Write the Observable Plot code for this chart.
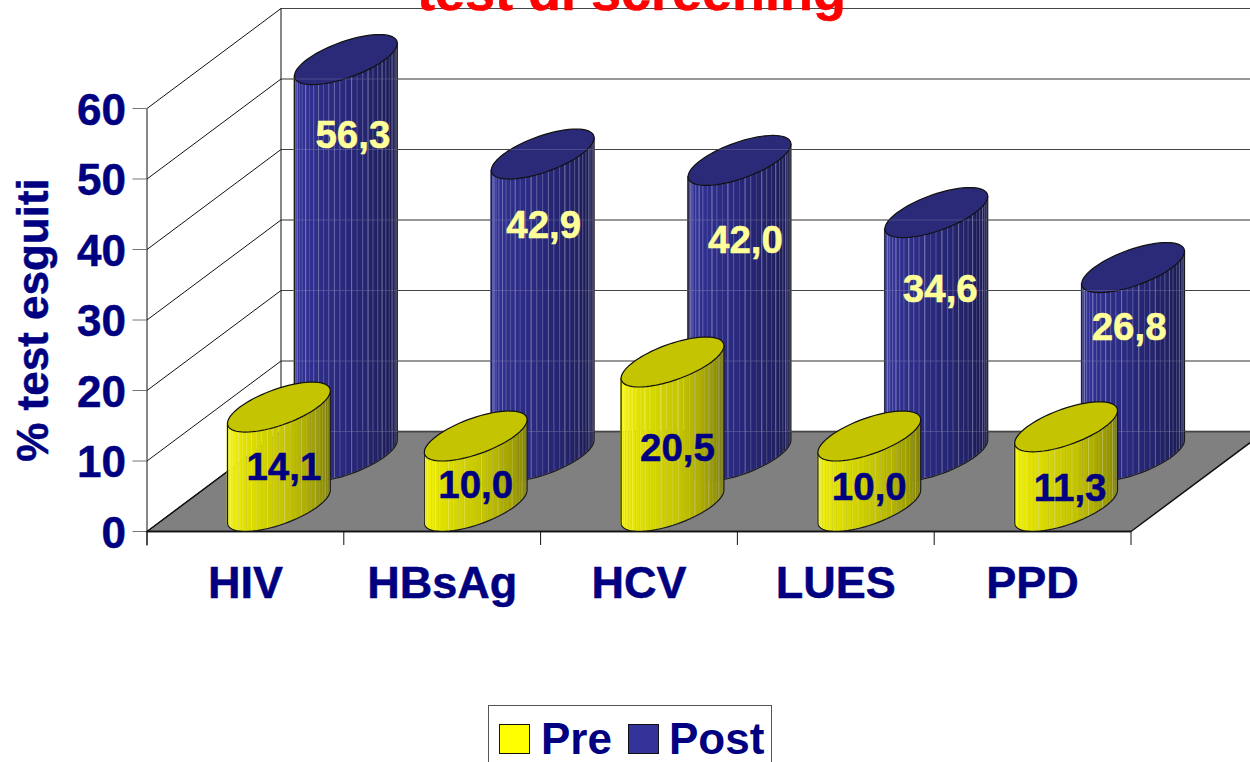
<!DOCTYPE html>
<html>
<head>
<meta charset="utf-8">
<script src="https://cdn.jsdelivr.net/npm/d3@7"></script>
<script src="https://cdn.jsdelivr.net/npm/@observablehq/plot@0.6"></script>
<style>
html,body{margin:0;padding:0;background:#fff;overflow:hidden}
svg{display:block}
#legend{position:absolute;left:488px;top:705px;width:284px;height:57px;border:1.5px solid #555;border-bottom:none;box-sizing:border-box;font:bold 44px "Liberation Sans",Arial,sans-serif;color:#000080}
#legend i{position:absolute;top:18px;width:31px;height:30px;border:1px solid #111;box-sizing:border-box}
#legend span{position:absolute;top:8px;line-height:50px}
</style>
</head>
<body>
<div id="chart"></div>
<div id="legend">
<i style="left:10px;background:#ffff00"></i><span style="left:52px">Pre</span>
<i style="left:139px;background:#333399"></i><span style="left:180px">Post</span>
</div>
<script>
const categories = ["HIV", "HBsAg", "HCV", "LUES", "PPD"];
const preValues = [14.1, 10.0, 20.5, 10.0, 11.3];
const postValues = [56.3, 42.9, 42.0, 34.6, 26.8];
const yTicks = [0, 10, 20, 30, 40, 50, 60];
const xTicks = [0, 1, 2, 3, 4, 5];

// Layout: pixel scale, depth of the 3D box, label offsets below each cap
const pxX = 196.8, pxY = 7.05;
const depthX = 134 / pxX, depthY = 100 / pxY;
const preOffset = [[5, 61], [0, 50], [5, 87], [0, 52], [4, 62]];
const postOffset = [[7, 76], [1, 72], [6, 80], [4, 77], [-4, 60]];

const P = (x, y, d) => ({x: x + d * depthX, y: y + d * depthY});

const radiusX = 39 / pxX;
const point = (i, d, v, t) => {
  const c = P(i + 0.5, v, d);
  return {
    x: c.x + radiusX * Math.cos(t) + 0.25 * depthX * Math.sin(t),
    y: c.y + 0.25 * depthY * Math.sin(t)
  };
};
const t0 = Math.atan2(0.25 * depthX, radiusX);
const facets = 28;

const preShade = d3.scaleLinear().domain([0, 0.12, 0.55, 1]).range(["#ffff00", "#f2f200", "#c4c400", "#757500"]);
const postShade = d3.scaleLinear().domain([0, 0.12, 0.5, 1]).range(["#4848b0", "#333399", "#28287c", "#181848"]);

function cylinders(values, d, shade, capColor, sid) {
  const side = [], stripes = [], cap = [], outline = [];
  values.forEach((v, i) => {
    for (let k = 0; k < facets; k++) {
      const id = `${sid}${i}-${k}`;
      for (const q of [k, k + 1]) {
        const t = Math.PI + t0 + (q / facets) * Math.PI;
        const a = point(i, d, 0, t), b = point(i, d, v, t);
        side.push({id, x: a.x, y1: a.y, y2: b.y, c: d3.color(shade((k + 0.5) / facets)).formatHex()});
      }
      if (k > 0) {
        const t = Math.PI + t0 + (k / facets) * Math.PI;
        const a = point(i, d, 0, t), b = point(i, d, v, t);
        stripes.push({x1: a.x, y1: a.y, x2: b.x, y2: b.y, o: k % 3 === 0 ? 0.3 : 0.14});
      }
    }
    for (let k = 0; k <= 72; k++) {
      const t = (k / 72) * 2 * Math.PI;
      cap.push({id: i, ...point(i, d, v, t)});
    }
    for (let k = 0; k <= 36; k++) {
      const t = Math.PI + t0 + (k / 36) * Math.PI;
      outline.push({id: i, ...point(i, d, 0, t)});
    }
    outline.push({id: i, ...point(i, d, v, t0)});
    outline.unshift({id: i, ...point(i, d, v, Math.PI + t0)});
  });
  return [
    Plot.area(side, {x1: "x", y1: "y1", y2: "y2", z: "id", fill: "c", stroke: "c", strokeWidth: 0.3}),
    Plot.link(stripes, {x1: "x1", y1: "y1", x2: "x2", y2: "y2", stroke: "#ffffff", strokeOpacity: "o", strokeWidth: 1}),
    Plot.line(outline, {x: "x", y: "y", z: "id", stroke: "#1a1a1a", strokeWidth: 1.2}),
    Plot.line(cap, {x: "x", y: "y", z: "id", fill: capColor, stroke: "#111", strokeWidth: 1.2})
  ];
}

const leftWall = yTicks.map(v => {
  const a = P(0, v, 0), b = P(0, v, 1);
  return {x1: a.x, y1: a.y, x2: b.x, y2: b.y, v};
});
const backWall = yTicks.map(v => {
  const a = P(0, v, 1), b = P(5.2, v, 1);
  return {x1: a.x, y1: a.y, x2: b.x, y2: b.y, v};
});
const floor = [P(0, 0, 0), P(0, 0, 1), P(5, 0, 1), P(5, 0, 0), P(0, 0, 0)];
const backEdge = [P(0, 0, 1), P(0, 60, 1)];

const labelData = (values, d, off) => values.map((v, i) => {
  const c = P(i + 0.5, v, d);
  return {x: c.x + off[i][0] / pxX, y: c.y - off[i][1] / pxY, t: v.toFixed(1).replace(".", ",")};
});

const navy = "#000080";
const chart = Plot.plot({
  width: 1250,
  height: 700,
  marginLeft: 146.5,
  marginRight: 0,
  marginTop: 0,
  marginBottom: 169,
  style: {fontFamily: "'Liberation Sans', Arial, sans-serif", background: "#fff"},
  x: {domain: [0, (1250 - 146.5) / pxX]},
  y: {domain: [0, 531 / pxY]},
  color: {type: "identity"},
  marks: [
    Plot.line(floor, {x: "x", y: "y", fill: "#808080", stroke: "#111", strokeWidth: 1.5}),
    Plot.link(leftWall, {x1: "x1", y1: "y1", x2: "x2", y2: "y2", stroke: "#111", strokeWidth: 1}),
    Plot.link(backWall, {x1: "x1", y1: "y1", x2: "x2", y2: "y2", stroke: "#222", strokeWidth: 1.1}),
    Plot.line(backEdge, {x: "x", y: "y", stroke: "#111", strokeWidth: 1}),
    ...cylinders(postValues, 0.75, postShade, "#2a2a78", "b"),
    Plot.link(backWall, {x1: "x1", y1: "y1", x2: "x2", y2: "y2", stroke: "#fff", strokeOpacity: 0.16, strokeWidth: 1}),
    ...cylinders(preValues, 0.25, preShade, "#c4c400", "a"),
    Plot.axisY({ticks: yTicks, anchor: "left", tickSize: 14, stroke: "#777", tickFormat: () => "", label: null}),
    Plot.text(yTicks, {x: 0, y: d => d, dx: -21, dy: 2, text: d => String(d), textAnchor: "end", fill: navy, stroke: navy, strokeWidth: 0.5, fontSize: 44, fontWeight: "bold"}),
    Plot.axisX({ticks: xTicks, anchor: "bottom", tickSize: 14, stroke: "#111", tickFormat: () => "", label: null}),
    Plot.link([{y1: -14 / pxY, y2: 60}], {x: 0, y1: "y1", y2: "y2", stroke: "#111", strokeWidth: 1}),
    Plot.ruleY([0], {x1: 0, x2: 5, stroke: "#111", strokeWidth: 1.3}),
    Plot.text(categories, {x: (d, i) => i + 0.5, y: -52 / pxY, text: d => d, fill: navy, stroke: navy, strokeWidth: 0.5, fontSize: 45, fontWeight: "bold"}),
    Plot.text(labelData(preValues, 0.25, preOffset), {x: "x", y: "y", text: "t", fill: navy, stroke: navy, strokeWidth: 0.5, fontSize: 38.5, fontWeight: "bold"}),
    Plot.text(labelData(postValues, 0.75, postOffset), {x: "x", y: "y", text: "t", fill: "#ffff99", stroke: "#ffff99", strokeWidth: 0.5, fontSize: 38.5, fontWeight: "bold"}),
    Plot.text(["% test esguiti"], {frameAnchor: "left", dx: -113, y: 30, text: d => d, rotate: -90, textAnchor: "middle", fill: navy, stroke: navy, strokeWidth: 0.5, fontSize: 44, fontWeight: "bold"}),
    Plot.text(["test di screening"], {x: (631 - 146.5) / pxX, y: (531 - 9) / pxY, lineAnchor: "bottom", text: d => d, fill: "#ff0000", stroke: "#ff0000", strokeWidth: 0.5, fontSize: 54, fontWeight: "bold"})
  ]
});
document.getElementById("chart").appendChild(chart);
</script>
</body>
</html>
